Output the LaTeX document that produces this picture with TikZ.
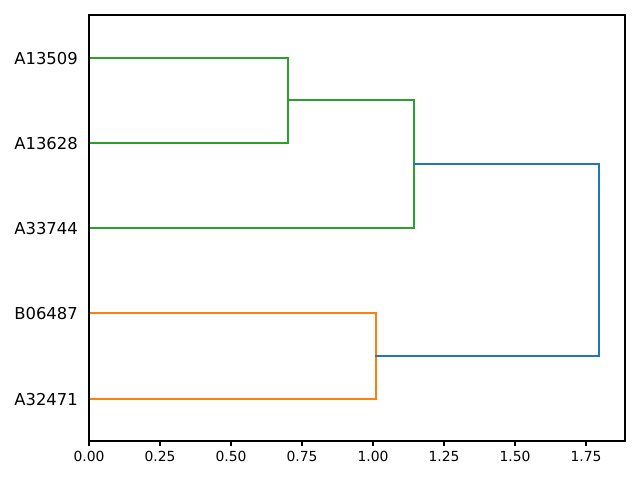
\documentclass[tikz,border=0pt]{standalone}
\usepackage{fontspec}
\setmainfont{DejaVu Sans}
\definecolor{cblue}{HTML}{1F77B4}
\definecolor{corange}{HTML}{FF7F0E}
\definecolor{cgreen}{HTML}{2CA02C}
\begin{document}
\begin{tikzpicture}[x=1pt,y=-1pt,
  link/.style={line width=2pt,line cap=rect,line join=miter},
  axisline/.style={line width=1.1pt,black},
  ylab/.style={anchor=east,inner sep=0pt,font=\fontsize{16.4}{16.4}\selectfont},
  xlab/.style={anchor=base,inner sep=0pt,font=\fontsize{13.9}{13.9}\selectfont}]
\useasboundingbox (0,0) rectangle (640,480);
% leaves
\coordinate (L1) at (89,58);
\coordinate (L2) at (89,143);
\coordinate (L3) at (89,228);
\coordinate (L4) at (89,313);
\coordinate (L5) at (89,399);
% merges
\coordinate (g1a) at (288,58);  \coordinate (g1b) at (288,143);
\coordinate (g2a) at (414,100); \coordinate (g2b) at (414,228);
\coordinate (o1a) at (376,313); \coordinate (o1b) at (376,399);
\coordinate (b1a) at (599,164); \coordinate (b1b) at (599,356);
\draw[link,cgreen] (L1) -- (g1a) -- (g1b) -- (L2);
\draw[link,cgreen] (g1a |- g2a) -- (g2a) -- (g2b) -- (L3);
\draw[link,corange] (L4) -- (o1a) -- (o1b) -- (L5);
\draw[link,cblue] (g2a |- b1a) -- (b1a) -- (b1b) -- (o1a |- b1b);
% axes frame
\draw[axisline] (89,15) rectangle (625,441);
% labels
\node[ylab] (n1) at (78,59) {A13509};
\node[ylab] (n2) at (78,144) {A13628};
\node[ylab] (n3) at (78,229) {A33744};
\node[ylab] (n4) at (78,314) {B06487};
\node[ylab] (n5) at (78,400) {A32471};
\foreach \v/\t [count=\i] in {0/0.00,1/0.25,2/0.50,3/0.75,4/1.00,5/1.25,6/1.50,7/1.75}{
  \coordinate (tk\i) at (89+71*\v,441);
  \draw[axisline] (tk\i) -- ++(0,4.9);
  \node[xlab] (x\i) at (89+71*\v,461.5) {\t};
}
\end{tikzpicture}
\end{document}
